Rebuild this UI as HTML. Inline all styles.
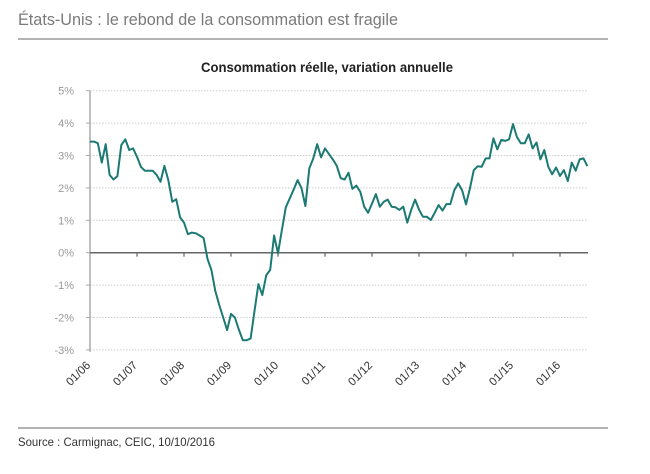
<!DOCTYPE html>
<html><head><meta charset="utf-8"><style>
html,body{margin:0;padding:0;background:#fff;width:650px;height:474px;overflow:hidden}
svg{display:block;font-family:"Liberation Sans",sans-serif}
</style></head><body>
<svg id="chart" width="650" height="474" viewBox="0 0 650 474">
<text x="18" y="25" font-size="17" fill="#7a7a7a" textLength="380" lengthAdjust="spacingAndGlyphs">États-Unis : le rebond de la consommation est fragile</text>
<line x1="18" y1="39" x2="608" y2="39" stroke="#999" stroke-width="1.5"/>
<text x="327" y="72" font-size="14" font-weight="bold" fill="#222" text-anchor="middle" textLength="252" lengthAdjust="spacingAndGlyphs">Consommation réelle, variation annuelle</text>
<g id="grid"></g><g id="axes"></g><g id="series"></g>
<line x1="18" y1="428" x2="608" y2="428" stroke="#999" stroke-width="1.5"/>
<text x="18" y="446" font-size="12" fill="#333" textLength="197" lengthAdjust="spacingAndGlyphs">Source : Carmignac, CEIC, 10/10/2016</text>
</svg>
<script>
const yTicks=[5,4,3,2,1,0,-1,-2,-3];
const yTickLabels=["5%","4%","3%","2%","1%","0%","-1%","-2%","-3%"];
const xTickLabels=["01/06","01/07","01/08","01/09","01/10","01/11","01/12","01/13","01/14","01/15","01/16"];
const startYear=2006;
const values=[3.43,3.43,3.38,2.78,3.35,2.40,2.26,2.36,3.32,3.50,3.17,3.22,
2.96,2.65,2.53,2.53,2.53,2.40,2.19,2.68,2.24,1.57,1.65,1.09,
0.93,0.57,0.62,0.60,0.53,0.45,-0.19,-0.53,-1.18,-1.62,-2.0,-2.39,
-1.89,-2.0,-2.37,-2.70,-2.70,-2.65,-1.8,-0.97,-1.31,-0.69,-0.53,0.53,
-0.02,0.70,1.40,1.68,1.95,2.24,1.99,1.44,2.60,2.91,3.35,2.94,
3.22,3.05,2.88,2.68,2.30,2.26,2.47,1.97,2.07,1.88,1.42,1.23,
1.52,1.81,1.42,1.57,1.64,1.42,1.40,1.32,1.42,0.93,1.32,1.64,
1.33,1.11,1.11,1.01,1.23,1.47,1.30,1.50,1.50,1.93,2.14,1.93,
1.49,1.98,2.55,2.67,2.65,2.91,2.91,3.53,3.19,3.48,3.45,3.50,
3.97,3.57,3.38,3.38,3.65,3.22,3.40,2.88,3.17,2.65,2.42,2.63,
2.37,2.55,2.21,2.78,2.53,2.88,2.91,2.67];
const NS="http://www.w3.org/2000/svg";
const x0=90,monthW=47/12,xEnd=588;
const y=v=>252.7-v*32.4;
const x=i=>x0+i*monthW;
function mk(t,a,p){const e=document.createElementNS(NS,t);for(const k in a)e.setAttribute(k,a[k]);p.appendChild(e);return e;}
const grid=document.getElementById('grid'),axes=document.getElementById('axes'),series=document.getElementById('series');
yTicks.forEach((v,k)=>{
  if(v!==0){const g=mk('line',{x1:x0,x2:xEnd,y1:y(v),y2:y(v),stroke:'#ccc','stroke-width':1,'stroke-dasharray':'1.5,1.5'},grid);
  
  }
  const t=mk('line',{x1:x0-4,x2:x0,y1:y(v),y2:y(v),stroke:'#aaa','stroke-width':1},axes);
  
  
  const l=mk('text',{x:x0-16,y:y(v)+4,'font-size':11,fill:'#999','text-anchor':'end'},axes);
  l.textContent=yTickLabels[k];
  
  
});
const ya=mk('line',{x1:x0,x2:x0,y1:y(5),y2:y(-3)+2,stroke:'#aaa','stroke-width':1.5},axes);


const za=mk('line',{x1:x0,x2:xEnd,y1:y(0),y2:y(0),stroke:'#666','stroke-width':1.5},axes);


xTickLabels.forEach((s,k)=>{
  const xx=x(k*12);
  if(k>0){const t=mk('line',{x1:xx,x2:xx,y1:y(0),y2:y(0)+4,stroke:'#666','stroke-width':1.2},axes);
  
  }
  const l=mk('text',{x:0,y:0,'font-size':11.5,fill:'#333','text-anchor':'end',transform:`translate(${xx+1},${366}) rotate(-45)`},axes);
  l.textContent=s;
  
  
});
const pts=values.map((v,i)=>x(i).toFixed(1)+','+y(v).toFixed(1)).join(' ');
const pl=mk('polyline',{points:pts,fill:'none',stroke:'#1b7a73','stroke-width':2,'stroke-linejoin':'round'},series);


</script>
</body></html>
